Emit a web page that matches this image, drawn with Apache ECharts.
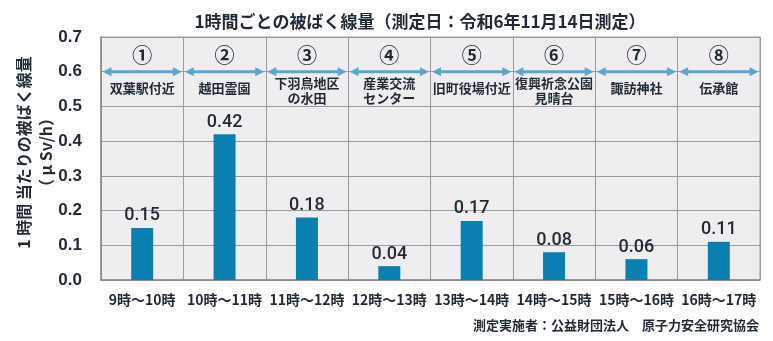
<!DOCTYPE html>
<html lang="ja">
<head>
<meta charset="utf-8">
<title>1時間ごとの被ばく線量</title>
<script src="https://cdn.jsdelivr.net/npm/echarts@6/dist/echarts.min.js"></script>
<style>
  html, body { margin: 0; padding: 0; background: #ffffff; }
  #chart { width: 773px; height: 341px; }
</style>
</head>
<body>
<div id="chart"></div>
<script>
// Hourly time slots (x axis)
const timeSlots = ['9時～10時', '10時～11時', '11時～12時', '12時～13時',
                   '13時～14時', '14時～15時', '15時～16時', '16時～17時'];
// Dose per hour at each stop (μSv/h)
const doseValues = [0.15, 0.42, 0.18, 0.04, 0.17, 0.08, 0.06, 0.11];
// Stop numbers and place names shown in the header band
const stopNumbers = ['①', '②', '③', '④', '⑤', '⑥', '⑦', '⑧'];
const placeNames = ['双葉駅付近', '越田霊園', '下羽鳥地区\nの水田', '産業交流\nセンター',
                    '旧町役場付近', '復興祈念公園\n見晴台', '諏訪神社', '伝承館'];
// Y axis ticks
const yTicks = [0.0, 0.1, 0.2, 0.3, 0.4, 0.5, 0.6, 0.7];

const titleText = '1時間ごとの被ばく線量（測定日：令和6年11月14日測定）';
const yAxisName = '1 時間 当たりの被ばく線量\n（ μ Sv/h）';
const footerText = '測定実施者：公益財団法人　原子力安全研究協会';

const CJK = '"Noto Sans CJK JP", "Noto Sans", sans-serif';
const NUM = '"Liberation Sans Narrow", "Liberation Sans", Roboto, sans-serif';
const inkColor = '#1f2a35';
const arrowColor = '#5aa6cd';
const gridColor = '#9b9b9b';

const chart = echarts.init(document.getElementById('chart'), null, { renderer: 'canvas' });

// Header band: double-headed arrow spanning each category, number above, place name below
function renderHeader(params, api) {
  const idx = api.value(0);
  const w = api.size([1, 0])[0];
  const cx = api.coord([idx, 0.6])[0];
  const y = api.coord([idx, 0.6])[1];
  const x0 = cx - w / 2 + 1.5;
  const x1 = cx + w / 2 - 1.5;
  const head = 9, hw = 4.5;
  const yNum = api.coord([idx, 0.646])[1];
  const name = placeNames[idx];
  const twoLines = name.indexOf('\n') >= 0;
  const yName = api.coord([idx, twoLines ? 0.545 : 0.553])[1];
  return {
    type: 'group',
    children: [
      { type: 'line', shape: { x1: x0 + head - 1, y1: y, x2: x1 - head + 1, y2: y },
        style: { stroke: arrowColor, lineWidth: 3 } },
      { type: 'polygon', shape: { points: [[x0, y], [x0 + head, y - hw], [x0 + head, y + hw]] },
        style: { fill: arrowColor } },
      { type: 'polygon', shape: { points: [[x1, y], [x1 - head, y - hw], [x1 - head, y + hw]] },
        style: { fill: arrowColor } },
      { type: 'text', x: cx, y: yNum,
        style: { text: stopNumbers[idx], fill: inkColor, font: 'bold 20px ' + CJK,
                 align: 'center', verticalAlign: 'middle' } },
      { type: 'text', x: cx, y: yName,
        style: { text: name, fill: inkColor, font: 'bold 13px ' + CJK, lineHeight: 15,
                 align: 'center', verticalAlign: 'middle' } }
    ]
  };
}

const option = {
  animation: false,
  backgroundColor: '#ffffff',
  title: {
    text: titleText,
    left: 415,
    top: 8,
    textAlign: 'center',
    textStyle: { fontFamily: CJK, fontSize: 17, fontWeight: 'bold', color: inkColor }
  },
  graphic: [{
    type: 'text',
    right: 14,
    top: 319,
    style: { text: footerText, fill: inkColor, font: 'bold 13px ' + CJK }
  }],
  grid: {
    left: 101, right: 13, top: 37, bottom: 61,
    outerBoundsMode: 'none',
    containLabel: false,
    show: true,
    backgroundColor: '#eeeef0',
    borderColor: gridColor,
    borderWidth: 1
  },
  xAxis: {
    type: 'category',
    data: timeSlots,
    boundaryGap: true,
    axisLine: { show: true, lineStyle: { color: '#8a8a8a', width: 1.5 } },
    axisTick: { show: false },
    splitLine: { show: true, lineStyle: { color: gridColor, width: 1 } },
    axisLabel: {
      interval: 0, margin: 13,
      fontFamily: CJK, fontSize: 14, fontWeight: 'bold', color: inkColor
    }
  },
  yAxis: {
    type: 'value',
    min: 0, max: 0.7, interval: 0.1,
    name: yAxisName,
    nameLocation: 'middle',
    nameRotate: 90,
    nameGap: 44,
    nameMoveOverlap: false,
    nameTextStyle: { fontFamily: CJK, fontSize: 16, fontWeight: 'bold', color: inkColor,
                     lineHeight: 22, padding: [0, 0, 0, 12] },
    axisLine: { show: true, lineStyle: { color: '#8a8a8a', width: 1.5 } },
    axisTick: { show: false },
    splitLine: { show: true, lineStyle: { color: gridColor, width: 1 } },
    axisLabel: {
      margin: 19,
      formatter: v => v.toFixed(1),
      fontFamily: NUM, fontSize: 17, fontWeight: 'bold', color: inkColor
    }
  },
  series: [
    {
      type: 'bar',
      data: doseValues,
      barWidth: 22,
      itemStyle: { color: '#0b80b0' },
      label: {
        show: true, position: 'top', distance: 3,
        formatter: p => p.value.toFixed(2),
        fontFamily: 'Roboto, "Liberation Sans", sans-serif',
        fontSize: 18, fontWeight: 500, color: inkColor
      },
      z: 3
    },
    {
      type: 'custom',
      data: timeSlots.map((t, i) => [i]),
      encode: { x: 0 },
      renderItem: renderHeader,
      clip: false,
      silent: true,
      z: 4
    }
  ]
};

chart.setOption(option);
</script>
</body>
</html>
